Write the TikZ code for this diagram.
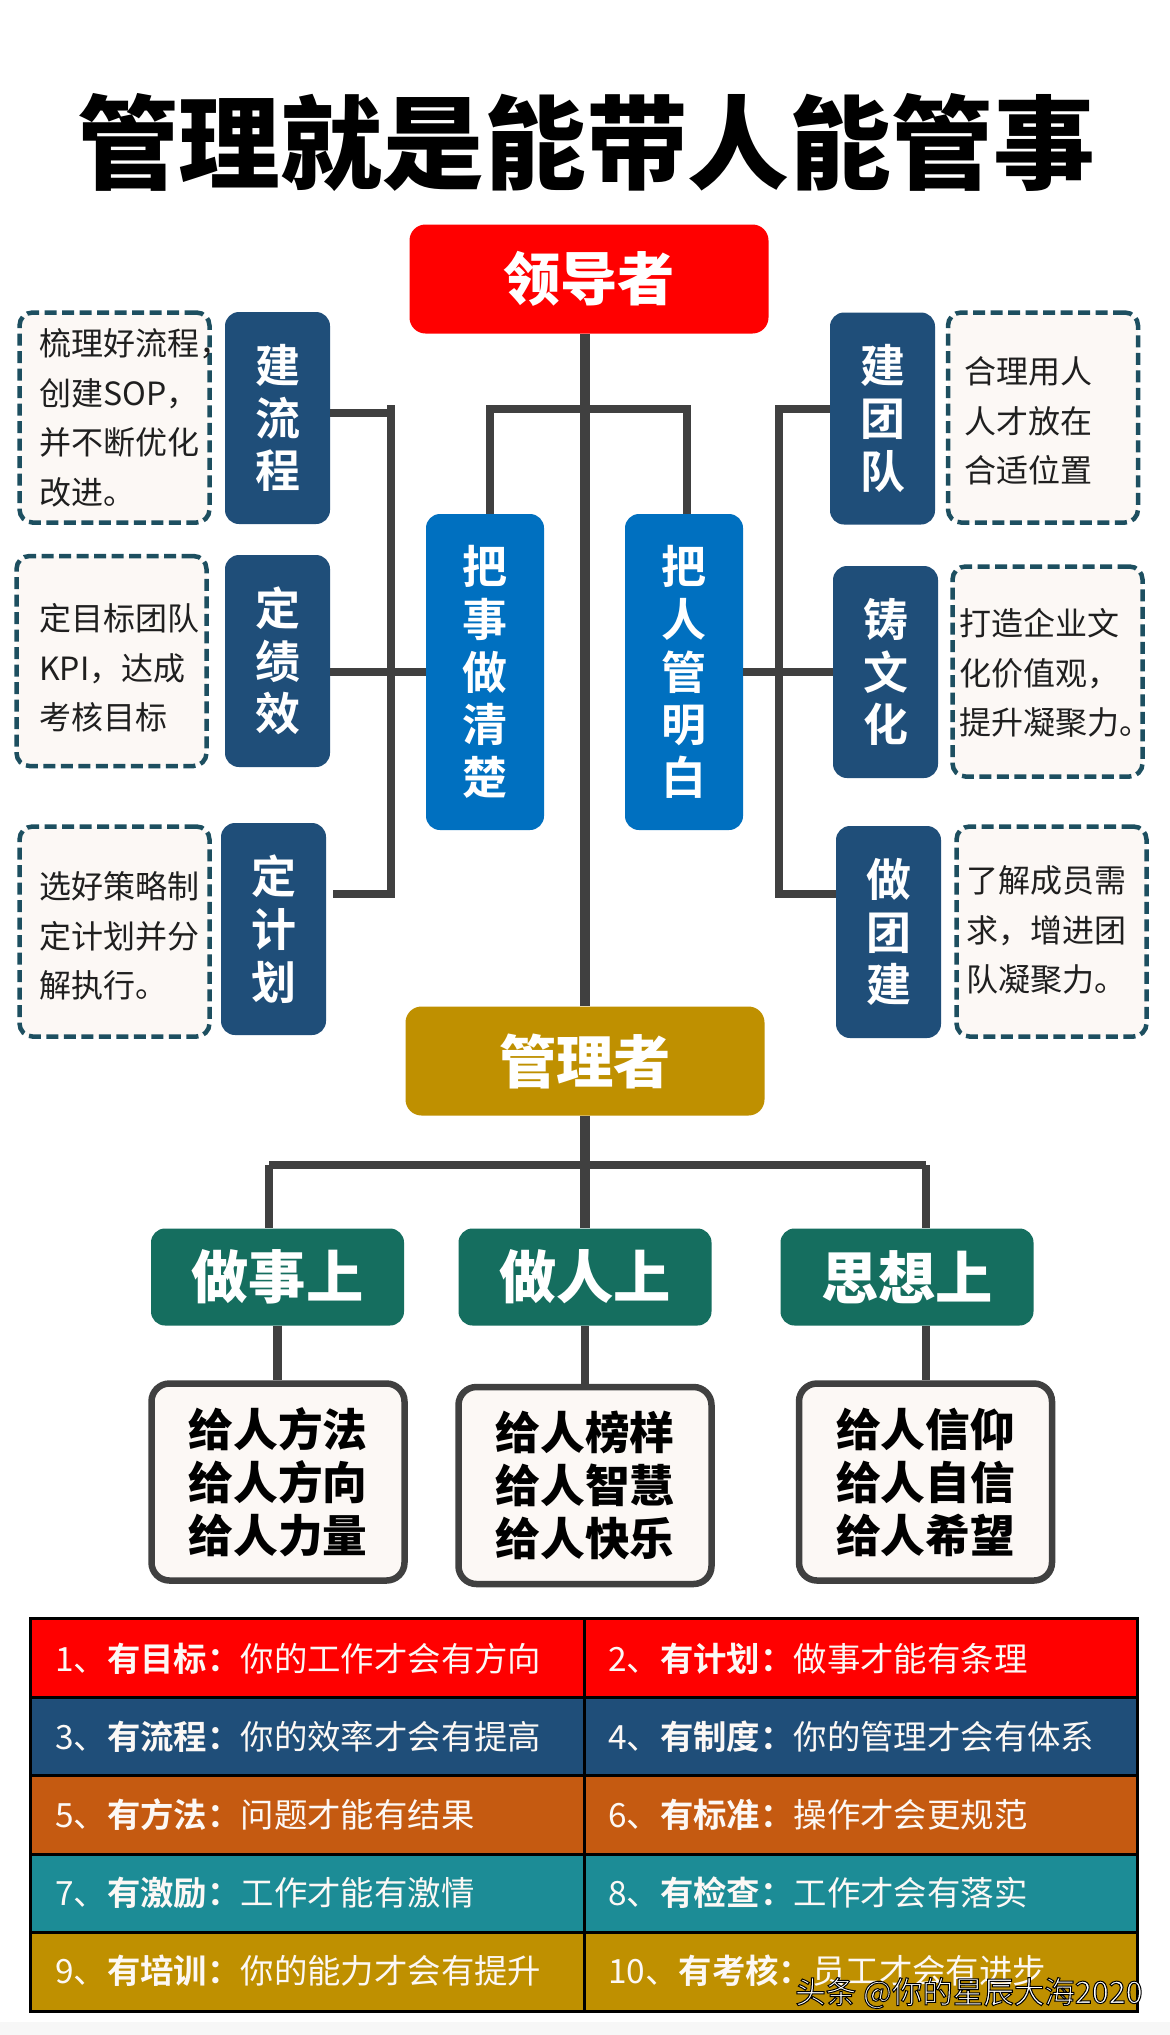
\documentclass[tikz,border=0pt]{standalone}
\usepackage{fontspec}
\setmainfont{Noto Sans CJK SC}
\newfontfamily\heavyfont{Noto Sans CJK SC Black}
\newfontfamily\boldcjk{Noto Sans CJK SC Bold}
\definecolor{ink}{HTML}{404040}
\definecolor{navy}{HTML}{1F4E79}
\definecolor{bright}{HTML}{0070C0}
\definecolor{goldbox}{HTML}{BF9000}
\definecolor{greenbox}{HTML}{156E5F}
\definecolor{paper}{HTML}{FCF8F5}
\definecolor{dashc}{HTML}{1D4F60}
\definecolor{orangerow}{HTML}{C55A11}
\definecolor{tealrow}{HTML}{1C8C96}
\tikzset{
 conn/.style={draw=ink,line width=7.5pt},
 mainconn/.style={draw=ink,line width=10pt},
 lowconn/.style={draw=ink,line width=8.5pt},
 boxbase/.style={rounded corners=14pt,inner sep=0pt,text=white,align=center},
 sidebox/.style={boxbase,fill=navy,minimum width=105pt,minimum height=212pt,font=\boldcjk\fontsize{45}{52.7}\selectfont},
 midbox/.style={boxbase,fill=bright,minimum width=118pt,minimum height=316pt,font=\boldcjk\fontsize{45}{52.7}\selectfont},
 headbox/.style={boxbase,rounded corners=16pt,minimum width=359pt,minimum height=109pt,font=\heavyfont\fontsize{57.3}{60}\selectfont},
 catbox/.style={boxbase,fill=greenbox,minimum width=253pt,minimum height=97pt,font=\heavyfont\fontsize{57.3}{60}\selectfont},
 notebox/.style={draw=dashc,fill=paper,line width=4.5pt,dash pattern=on 12pt off 5.5pt,rounded corners=13pt,minimum width=190pt,minimum height=210pt,inner sep=0pt},
 notetext/.style={anchor=west,inner sep=0pt,align=left,text=black!88,font=\fontsize{32}{49.5}\selectfont},
 givebox/.style={draw=ink,fill=paper,line width=6.5pt,rounded corners=18pt,minimum width=253pt,minimum height=197pt,inner sep=0pt,align=center,font=\heavyfont\fontsize{44.7}{53}\selectfont},
 rowcell/.style={draw=black,line width=3pt,minimum width=553.5pt,minimum height=78.5pt,inner sep=0pt},
 rowtext/.style={anchor=west,inner sep=0pt,text=paper,font=\fontsize{33.4}{36}\selectfont},
}
\begin{document}
\begin{tikzpicture}[x=1pt,y=-1pt]
\useasboundingbox (0,0) rectangle (1170,2035);
\fill[white] (0,0) rectangle (1170,2035);
\fill[black!3] (0,2022) rectangle (1170,2035);
% title
\node[inner sep=0pt,font=\heavyfont\fontsize{101.8}{110}\selectfont] (title) at (586,143) {管理就是能带人能管事};
% heads and middle boxes
\node[headbox,fill=red] (lead) at (589,279) {领导者};
\node[headbox,fill=goldbox] (mgr) at (585,1061) {管理者};
\node[midbox] (mleft) at (485,672) {把\\事\\做\\清\\楚};
\node[midbox] (mright) at (684,672) {把\\人\\管\\明\\白};
% side boxes
\node[sidebox] (s1) at (277.5,418) {建\\流\\程};
\node[sidebox] (s2) at (277.5,661) {定\\绩\\效};
\node[sidebox] (s3) at (273.5,929) {定\\计\\划};
\node[sidebox] (s4) at (882.5,418.5) {建\\团\\队};
\node[sidebox] (s5) at (885.5,672) {铸\\文\\化};
\node[sidebox] (s6) at (888.5,932) {做\\团\\建};
% notes
\node[notebox] (n1) at (114.5,417.5) {};
\node[notebox] (n2) at (111.5,661) {};
\node[notebox] (n3) at (114.5,931.5) {};
\node[notebox] (n4) at (1043,417.5) {};
\node[notebox] (n5) at (1047.5,671.5) {};
\node[notebox] (n6) at (1051.5,931.5) {};
\node[notetext] (t1) at (39,418) {梳理好流程，\\创建SOP，\\并不断优化\\改进。};
\node[notetext] (t2) at (39,668) {定目标团队\\KPI，达成\\考核目标};
\node[notetext] (t3) at (39,936) {选好策略制\\定计划并分\\解执行。};
\node[notetext] (t4) at (964,421) {合理用人\\人才放在\\合适位置};
\node[notetext] (t5) at (959,673) {打造企业文\\化价值观，\\提升凝聚力。};
\node[notetext] (t6) at (966,930) {了解成员需\\求，增进团\\队凝聚力。};
% categories
\node[catbox] (c1) at (277.5,1277) {做事上};
\node[catbox] (c2) at (585,1277) {做人上};
\node[catbox] (c3) at (907,1277) {思想上};
\node[givebox] (g1) at (278,1482) {给人方法\\给人方向\\给人力量};
\node[givebox] (g2) at (585,1485.5) {给人榜样\\给人智慧\\给人快乐};
\node[givebox] (g3) at (925.5,1482) {给人信仰\\给人自信\\给人希望};
% table rows
\foreach \nm/\yy/\col in {a/1658/red,b/1736.5/navy,c/1815/orangerow,d/1893.5/tealrow,e/1972/goldbox}{
  \node[rowcell,fill=\col] (\nm l) at (307.5,\yy) {};
  \node[rowcell,fill=\col] (\nm r) at (861,\yy) {};
}
\node[rowtext] (r1) at (55,1659) {1、{\boldcjk 有目标：}你的工作才会有方向};
\node[rowtext] (r2) at (608,1659) {2、{\boldcjk 有计划：}做事才能有条理};
\node[rowtext] (r3) at (55,1737) {3、{\boldcjk 有流程：}你的效率才会有提高};
\node[rowtext] (r4) at (608,1737) {4、{\boldcjk 有制度：}你的管理才会有体系};
\node[rowtext] (r5) at (55,1815) {5、{\boldcjk 有方法：}问题才能有结果};
\node[rowtext] (r6) at (608,1815) {6、{\boldcjk 有标准：}操作才会更规范};
\node[rowtext] (r7) at (55,1893) {7、{\boldcjk 有激励：}工作才能有激情};
\node[rowtext] (r8) at (608,1893) {8、{\boldcjk 有检查：}工作才会有落实};
\node[rowtext] (r9) at (55,1971) {9、{\boldcjk 有培训：}你的能力才会有提升};
\node[rowtext] (r10) at (608,1971) {10、{\boldcjk 有考核：}员工才会有进步};
\node[anchor=west,inner sep=0pt,text=white,font=\fontsize{30.5}{32}\selectfont] (wm) at (795,1993) {\special{pdf:code q 2 Tr 0 0 0 RG 1 w}头条 @你的星辰大海2020\special{pdf:code Q}};
% connectors
\coordinate (jl) at (490,409);
\coordinate (jr) at (687,409);
\coordinate (bl) at (391,405.25);
\coordinate (blb) at (391,897.75);
\coordinate (br) at (779,405.25);
\coordinate (brb) at (779,897.75);
\coordinate (yt) at (0,413);
\coordinate (yr) at (0,409);
\coordinate (yb) at (0,894);
\coordinate (s3e) at (333,894);
\coordinate (bb) at (269,1165);
\coordinate (bc) at (926,1165);
\draw[mainconn] (mgr.north |- lead.south) -- (mgr.north);
\draw[conn] (jl |- mleft.north) -- (jl) -- (jr) -- (jr |- mright.north);
\draw[conn] (bl) -- (blb);
\draw[conn] (s1.east |- yt) -- (bl |- yt);
\draw[conn] (s2.east |- mleft.west) -- (mleft.west);
\draw[conn] (s3e) -- (bl |- yb);
\draw[conn] (br) -- (brb);
\draw[conn] (br |- yr) -- (s4.west |- yr);
\draw[conn] (mright.east) -- (s5.west |- mright.east);
\draw[conn] (br |- yb) -- (s6.west |- yb);
\draw[mainconn] (mgr.south) -- (mgr.south |- c2.north);
\draw[conn] (bb) -- (bc);
\draw[lowconn] (bb) -- (bb |- c1.north);
\draw[lowconn] (bc) -- (bc |- c3.north);
\draw[lowconn] (c1.south) -- (c1.south |- g1.north);
\draw[lowconn] (c2.south) -- (g2.north);
\draw[lowconn] (bc |- c3.south) -- (bc |- g3.north);
\end{tikzpicture}
\end{document}
